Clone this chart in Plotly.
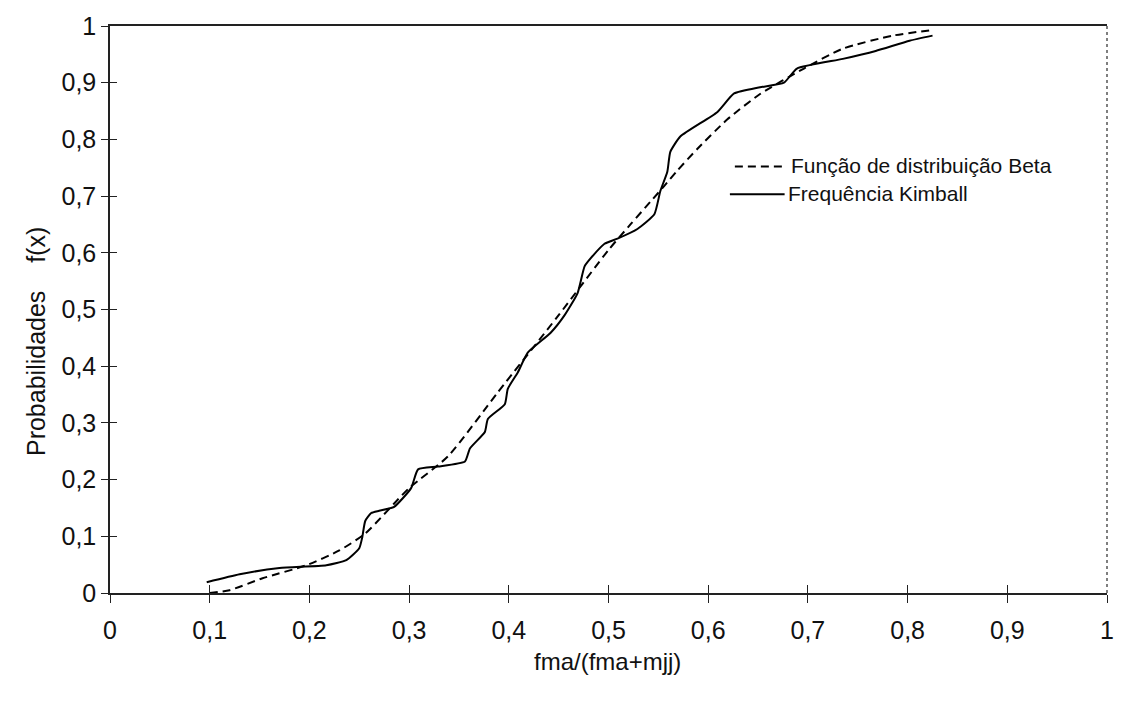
import plotly.graph_objects as go

# Kimball empirical frequency (solid)
kimball_x = [0.097, 0.13, 0.17, 0.217, 0.237, 0.25, 0.253, 0.256, 0.262, 0.27, 0.285,
             0.302, 0.309, 0.329, 0.356, 0.361, 0.376, 0.379, 0.396, 0.399, 0.409,
             0.419, 0.442, 0.456, 0.469, 0.476, 0.482, 0.496, 0.509, 0.529, 0.546,
             0.552, 0.559, 0.562, 0.572, 0.609, 0.626, 0.652, 0.676, 0.689, 0.735,
             0.768, 0.802, 0.825]
kimball_y = [0.019, 0.033, 0.044, 0.049, 0.058, 0.079, 0.098, 0.127, 0.141, 0.145, 0.152,
             0.185, 0.218, 0.223, 0.232, 0.255, 0.284, 0.307, 0.333, 0.36, 0.389,
             0.424, 0.459, 0.49, 0.529, 0.576, 0.59, 0.616, 0.625, 0.642, 0.668,
             0.709, 0.743, 0.778, 0.805, 0.848, 0.881, 0.892, 0.90, 0.925, 0.942,
             0.956, 0.974, 0.983]

# Beta distribution function (dashed)
beta_x = [0.1, 0.12, 0.153, 0.197, 0.23, 0.256, 0.3, 0.339, 0.389, 0.45, 0.5, 0.522,
          0.542, 0.556, 0.569, 0.589, 0.619, 0.652, 0.696, 0.735, 0.785, 0.825]
beta_y = [0.0, 0.005, 0.026, 0.049, 0.075, 0.105, 0.185, 0.241, 0.354, 0.49, 0.605, 0.65,
          0.69, 0.718, 0.745, 0.783, 0.835, 0.88, 0.925, 0.96, 0.983, 0.993]

tick_vals = [0, 0.1, 0.2, 0.3, 0.4, 0.5, 0.6, 0.7, 0.8, 0.9, 1]
tick_text = ["0", "0,1", "0,2", "0,3", "0,4", "0,5", "0,6", "0,7", "0,8", "0,9", "1"]

legend_names = ["Função de distribuição Beta", "Frequência Kimball"]

FONT = "Liberation Sans Narrow, Arial Narrow, Liberation Sans, Arial, sans-serif"

# pixel -> paper helpers for the plot area (l=110, r=14, t=20, b=108 on 1126x701)
PW, PH = 1002.0, 573.0
def px(xp):
    return (xp - 110) / PW
def py(yp):
    return (593 - yp) / PH

fig = go.Figure()
fig.add_trace(go.Scatter(x=beta_x, y=beta_y, mode="lines", name=legend_names[0],
                         showlegend=False,
                         line=dict(color="black", width=2, dash="8px,5px", shape="spline", smoothing=0.6)))
fig.add_trace(go.Scatter(x=kimball_x, y=kimball_y, mode="lines", name=legend_names[1],
                         showlegend=False,
                         line=dict(color="black", width=2, shape="spline", smoothing=0.5)))

fig.update_layout(
    width=1126, height=701,
    margin=dict(l=110, r=14, t=20, b=108),
    paper_bgcolor="white", plot_bgcolor="white",
    font=dict(family=FONT, size=25, color="#111"),
    showlegend=False,
    xaxis=dict(range=[0, 1], tickvals=tick_vals, ticktext=tick_text,
               showgrid=False, zeroline=False, showline=True, linecolor="#222",
               linewidth=1.5, mirror=True, ticks="outside", ticklen=8, tickcolor="#222",
               ticklabelstandoff=6),
    yaxis=dict(range=[0, 1], tickvals=tick_vals, ticktext=tick_text,
               showgrid=False, zeroline=False, showline=True, linecolor="#222",
               linewidth=1.5, ticks="outside", ticklen=7, tickcolor="#222"),
    xaxis2=dict(range=[0, 1], overlaying="x", tickvals=tick_vals, showticklabels=False,
                ticks="inside", ticklen=8, tickcolor="#222", showgrid=False,
                zeroline=False, showline=False, anchor="y"),
    yaxis2=dict(range=[0, 1], overlaying="y", tickvals=tick_vals, showticklabels=False,
                ticks="inside", ticklen=7, tickcolor="#222", showgrid=False,
                zeroline=False, showline=False, anchor="x"),
)
# invisible trace to activate overlay axes
fig.add_trace(go.Scatter(x=[0], y=[0], xaxis="x2", yaxis="y2", mode="markers",
                         marker=dict(opacity=0), showlegend=False, hoverinfo="skip"))

# right border dotted
fig.add_shape(type="line", xref="paper", yref="paper", x0=1, x1=1, y0=0, y1=1,
              line=dict(color="#555", width=1.5, dash="dot"))

# axis titles
fig.add_annotation(text="fma/(fma+mjj)", xref="paper", yref="paper",
                   x=px(610), y=py(662), showarrow=False, xanchor="center", yanchor="middle",
                   font=dict(size=24))
fig.add_annotation(text="Probabilidades    f(x)", xref="paper", yref="paper",
                   x=px(35), y=py(339), showarrow=False, textangle=-90,
                   xanchor="center", yanchor="middle", font=dict(size=25))

# legend (sample lines + labels)
fig.add_shape(type="line", xref="paper", yref="paper", x0=px(738), x1=px(790),
              y0=py(162), y1=py(162), line=dict(color="black", width=2, dash="8px,5px"))
fig.add_annotation(text=legend_names[0], xref="paper", yref="paper",
                   x=px(793), y=py(161), showarrow=False, xanchor="left", yanchor="middle",
                   borderpad=0, font=dict(size=21))
fig.add_shape(type="line", xref="paper", yref="paper", x0=px(733), x1=px(788),
              y0=py(190), y1=py(190), line=dict(color="black", width=2))
fig.add_annotation(text=legend_names[1], xref="paper", yref="paper",
                   x=px(790), y=py(189), showarrow=False, xanchor="left", yanchor="middle",
                   borderpad=0, font=dict(size=21))

fig.write_html("out.html")
